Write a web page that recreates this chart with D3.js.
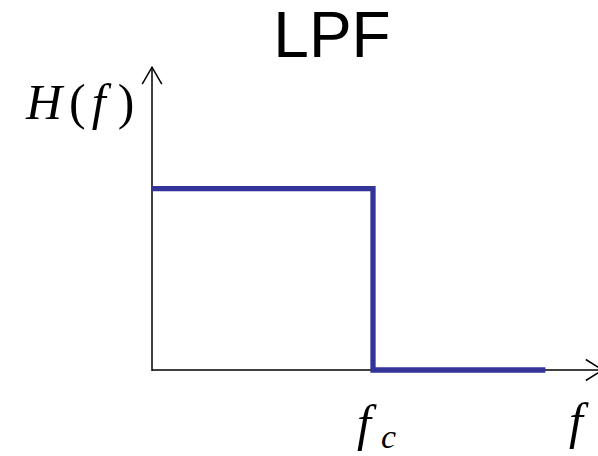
<!DOCTYPE html>
<html>
<head>
<meta charset="utf-8">
<script src="https://cdn.jsdelivr.net/npm/d3@7"></script>
<style>
  body { margin: 0; background: #fff; }
  svg { display: block; }
</style>
</head>
<body>
<div id="chart"></div>
<script>
/* Data */

var freq = [0, 1, 1, 1.78];   // f, in units of the cutoff fc
var gain = [1, 1, 0, 0];      // H(f)
var cutoff = 1;
var title = "LPF";

var width = 598,
    height = 456;

var x = d3.scaleLinear().domain([0, 2]).range([152, 594]);
var y = d3.scaleLinear().domain([0, 1]).range([370, 188.7]);

var svg = d3.select("#chart").append("svg")
    .attr("width", width)
    .attr("height", height);

/* ------- AXES -------*/
var axes = svg.append("g")
    .attr("fill", "none")
    .attr("stroke", "#000")
    .attr("stroke-width", 1.5);

var yTop = y(1.67),
    xEnd = x(2.04);

axes.append("line")
    .attr("x1", x(0)).attr("y1", y(0) + 1)
    .attr("x2", x(0)).attr("y2", yTop);
axes.append("polyline")
    .attr("points", [[x(0) - 9.8, yTop + 17], [x(0), yTop], [x(0) + 9.8, yTop + 17]].join(" "));

axes.append("line")
    .attr("x1", x(0)).attr("y1", y(0))
    .attr("x2", xEnd).attr("y2", y(0));
axes.append("polyline")
    .attr("points", [[xEnd - 17, y(0) - 10.5], [xEnd, y(0)], [xEnd - 17, y(0) + 10.5]].join(" "));

/* ------- RESPONSE -------*/
var line = d3.line()
    .x(function(d, i) { return x(freq[i]); })
    .y(function(d, i) { return y(gain[i]); });

svg.append("path")
    .datum(freq)
    .attr("d", line)
    .attr("fill", "none")
    .attr("stroke", "#333399")
    .attr("stroke-width", 5.3)
    .attr("stroke-linejoin", "miter");

/* ------- TEXT -------*/
svg.append("text")
    .attr("x", 332)
    .attr("y", 57)
    .attr("text-anchor", "middle")
    .style("font-family", "'Liberation Sans', Arial, sans-serif")
    .style("font-size", "64px")
    .text(title);

var math = "'Liberation Serif', 'Times New Roman', serif";

var hLabel = svg.append("text")
    .attr("x", 26)
    .attr("y", 119)
    .style("font-family", math)
    .style("font-size", "50px");
hLabel.append("tspan").style("font-style", "italic").text("H");
hLabel.append("tspan").attr("dx", 7).text("(");
hLabel.append("tspan").attr("dx", 6).style("font-style", "italic").text("f");
hLabel.append("tspan").attr("dx", 12).text(")");

var fc = svg.append("text")
    .attr("x", x(cutoff) - 16)
    .attr("y", 440)
    .style("font-family", math)
    .style("font-style", "italic")
    .style("font-size", "50px");
fc.append("tspan").text("f");
fc.append("tspan").attr("dx", 10).attr("dy", 8).style("font-size", "34px").text("c");

svg.append("text")
    .attr("x", 569)
    .attr("y", 438)
    .style("font-family", math)
    .style("font-style", "italic")
    .style("font-size", "50px")
    .text("f");
</script>
</body>
</html>
